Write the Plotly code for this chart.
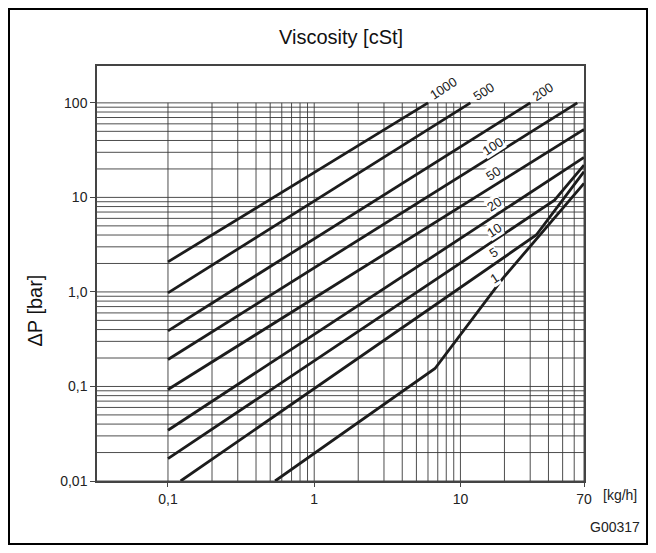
import math
import plotly.graph_objects as go

# ---------------- data ----------------
viscosity_labels = ["1000", "500", "200", "100", "50", "20", "10", "5", "1"]

flow_1000 = [0.1, 6.0]
dp_1000 = [2.08, 100]
flow_500 = [0.1, 11.7]
dp_500 = [0.977, 100]
flow_200 = [0.1, 30]
dp_200 = [0.387, 100]
flow_100 = [0.1, 63]
dp_100 = [0.193, 100]
flow_50 = [0.1, 70]
dp_50 = [0.0928, 52.5]
flow_20 = [0.1, 70]
dp_20 = [0.0344, 26.5]
flow_10 = [0.1, 44, 70]
dp_10 = [0.01726, 9.36, 22]
flow_5 = [0.122, 33, 70]
dp_5 = [0.01, 4.0, 18.7]
flow_1 = [0.54, 6.7, 19.5, 42.8, 70]
dp_1 = [0.01, 0.155, 1.39, 5.75, 14.1]

# label anchor positions (flow, dP)
label_flow = [7.6, 14.5, 36.9, 16.6, 16.8, 16.9, 16.9, 16.8, 17.0]
label_dp = [142, 131, 131, 34.5, 17.9, 8.5, 4.5, 2.6, 1.39]

y_tick_vals = [0.01, 0.1, 1, 10, 100]
y_tick_text = ["0,01", "0,1", "1,0", "10", "100"]
x_tick_vals = [0.1, 1, 10, 70]
x_tick_text = ["0,1", "1", "10", "70"]

x_min, x_max = 0.0327, 70
grid_y = [d * k for d in (0.01, 0.1, 1, 10) for k in range(1, 10)] + [100]
grid_x = [d * k for d in (0.1, 1, 10) for k in range(1, 10) if d * k <= 70]

# ---------------- figure ----------------
fig = go.Figure()

gx, gy = [], []
for yv in grid_y:
    gx += [x_min, x_max, None]
    gy += [yv, yv, None]
fig.add_trace(go.Scatter(x=gx, y=gy, mode="lines",
                         line=dict(color="#3a3a3a", width=0.9),
                         hoverinfo="skip", showlegend=False))
vx, vy = [], []
for xv in grid_x:
    vx += [xv, xv, None]
    vy += [0.01, 100, None]
fig.add_trace(go.Scatter(x=vx, y=vy, mode="lines",
                         line=dict(color="#3a3a3a", width=0.9),
                         hoverinfo="skip", showlegend=False))

curves = [(flow_1000, dp_1000), (flow_500, dp_500), (flow_200, dp_200),
          (flow_100, dp_100), (flow_50, dp_50), (flow_20, dp_20),
          (flow_10, dp_10), (flow_5, dp_5), (flow_1, dp_1)]
for name, (fx, fy) in zip(viscosity_labels, curves):
    fig.add_trace(go.Scatter(x=fx, y=fy, mode="lines", name=name,
                             line=dict(color="#1c1c1c", width=2.8),
                             showlegend=False))

font_family = "Liberation Sans, Arial, sans-serif"
annotations = []
for i, lab in enumerate(viscosity_labels):
    annotations.append(dict(
        x=math.log10(label_flow[i]), y=math.log10(label_dp[i]),
        xref="x", yref="y", text=lab, showarrow=False, textangle=-33,
        font=dict(family=font_family, size=13, color="#222"),
        bgcolor="white" if i >= 3 else "rgba(0,0,0,0)", borderpad=0))

annotations += [
    dict(x=0.5, y=1.07, xref="paper", yref="paper", text="Viscosity [cSt]",
         showarrow=False, font=dict(family=font_family, size=20, color="#111"),
         xanchor="center", yanchor="middle"),
    dict(x=-0.128, y=0.41, xref="paper", yref="paper", text="ΔP [bar]",
         showarrow=False, textangle=-90,
         font=dict(family=font_family, size=20, color="#111"),
         xanchor="center", yanchor="middle"),
    dict(x=1.035, y=-0.0345, xref="paper", yref="paper", text="[kg/h]",
         showarrow=False, font=dict(family=font_family, size=14, color="#222"),
         xanchor="left", yanchor="middle"),
    dict(x=1.1294 - 0.01, y=-0.11, xref="paper", yref="paper", text="G00317",
         showarrow=False, font=dict(family=font_family, size=14, color="#222"),
         xanchor="right", yanchor="middle"),
]

fig.update_layout(
    width=640, height=537,
    margin=dict(l=89, r=64, t=58, b=64),
    paper_bgcolor="white", plot_bgcolor="white",
    annotations=annotations,
    shapes=[dict(type="rect", xref="paper", yref="paper",
                 x0=-0.1807, x1=1.1294, y0=-0.1518, y1=1.1373,
                 line=dict(color="black", width=2), fillcolor="rgba(0,0,0,0)",
                 layer="below")],
    font=dict(family=font_family, size=14, color="#222"),
)
fig.update_xaxes(type="log", range=[math.log10(x_min), math.log10(x_max)],
                 tickvals=x_tick_vals, ticktext=x_tick_text,
                 ticks="outside", ticklen=4, tickcolor="#444",
                 showgrid=False, zeroline=False,
                 showline=True, linecolor="#444", linewidth=1.5, mirror=True,
                 tickfont=dict(size=14, color="#222"))
fig.update_yaxes(type="log", range=[-2, 2.39],
                 tickvals=y_tick_vals, ticktext=y_tick_text,
                 ticks="outside", ticklen=5, tickcolor="#444",
                 showgrid=False, zeroline=False,
                 showline=True, linecolor="#444", linewidth=1.5, mirror=True,
                 tickfont=dict(size=14, color="#222"))

fig.write_html("out.html")
